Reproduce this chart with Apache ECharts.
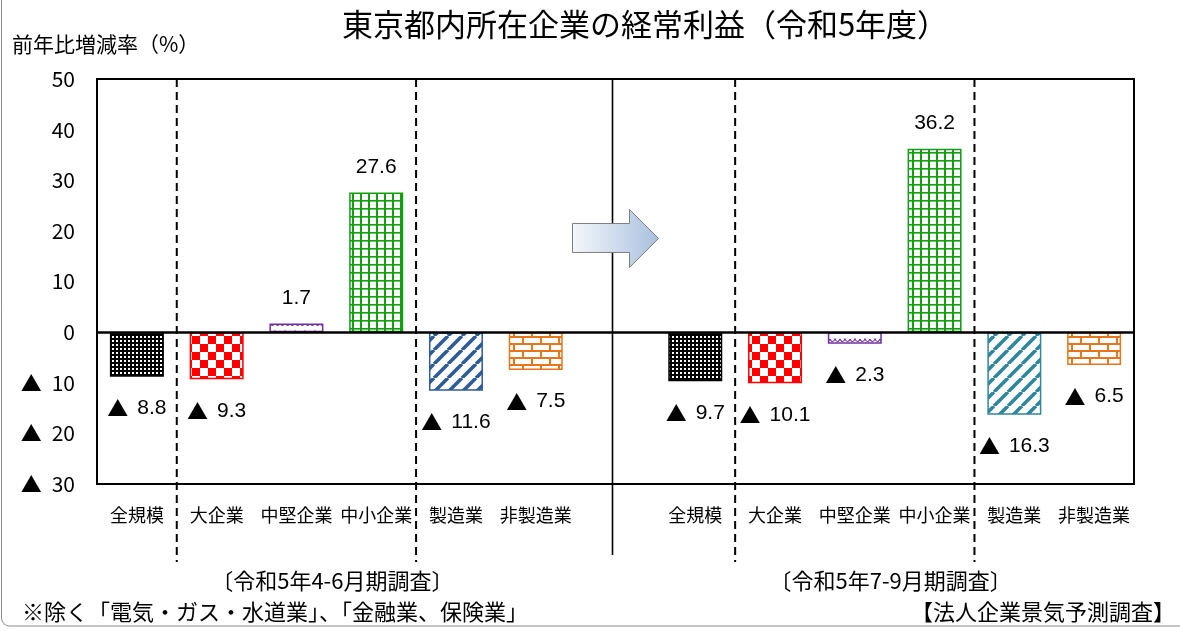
<!DOCTYPE html>
<html>
<head>
<meta charset="utf-8">
<script src="https://cdn.jsdelivr.net/npm/echarts@6/dist/echarts.min.js"></script>
<style>
  html, body { margin: 0; padding: 0; background: #fff; }
  #chart { width: 1180px; height: 631px; }
</style>
</head>
<body>
<div id="chart"></div>
<script>
// ---- data ----
const categories = ['全規模', '大企業', '中堅企業', '中小企業', '製造業', '非製造業', '',
                    '全規模', '大企業', '中堅企業', '中小企業', '製造業', '非製造業'];
const aprJunValues = [-8.8, -9.3, 1.7, 27.6, -11.6, -7.5];   // 令和5年4-6月期調査
const julSepValues = [-9.7, -10.1, -2.3, 36.2, -16.3, -6.5]; // 令和5年7-9月期調査
const yMin = -30, yMax = 50, yStep = 10;
const titleText = '東京都内所在企業の経常利益（令和5年度）';
const yAxisTitle = '前年比増減率（%）';
const periodLabels = ['〔令和5年4-6月期調査〕', '〔令和5年7-9月期調査〕'];
const footnote = '※除く「電気・ガス・水道業」、「金融業、保険業」';
const sourceNote = '【法人企業景気予測調査】';

// ---- fill patterns ----
function makePattern(w, h, draw) {
  const c = document.createElement('canvas');
  c.width = w; c.height = h;
  const g = c.getContext('2d');
  g.fillStyle = '#fff';
  g.fillRect(0, 0, w, h);
  draw(g, w, h);
  return c;
}
const patDots = makePattern(4, 4, g => {
  g.fillStyle = '#000';
  g.fillRect(0, 0, 4, 4);
  g.fillStyle = '#fff';
  g.fillRect(0, 0, 2, 2);
});
const patChecker = makePattern(16, 16, g => {
  g.fillStyle = '#ff0000';
  g.fillRect(0, 0, 8, 8);
  g.fillRect(8, 8, 8, 8);
});
const patWave = makePattern(10, 8, g => {
  g.strokeStyle = '#7030a0';
  g.lineWidth = 1.2;
  g.beginPath();
  g.moveTo(0, 3);
  g.quadraticCurveTo(2.5, 8, 5, 3);
  g.quadraticCurveTo(7.5, 8, 10, 3);
  g.stroke();
});
const patGrid = makePattern(8, 8, g => {
  g.fillStyle = '#12a012';
  g.fillRect(0, 0, 2, 8);
  g.fillRect(0, 0, 8, 1.6);
});
function patStripes(color) {
  return makePattern(14, 14, (g, w, h) => {
    g.strokeStyle = color;
    g.lineWidth = 3.6;
    g.beginPath();
    for (let k = -1; k <= 1; k++) {
      g.moveTo(k * w, h);
      g.lineTo(k * w + w, 0);
    }
    g.stroke();
  });
}
const patBricks = makePattern(18, 14, g => {
  g.fillStyle = '#e8751a';
  g.fillRect(0, 0, 18, 2);
  g.fillRect(0, 7, 18, 2);
  g.fillRect(0, 0, 2, 7);
  g.fillRect(9, 7, 2, 7);
});

function fill(img, border) {
  return { color: { image: img, repeat: 'repeat' }, borderColor: border, borderWidth: 1.5 };
}
const aprJunStyles = [
  fill(patDots, '#000'), fill(patChecker, '#ff0000'), fill(patWave, '#7030a0'),
  fill(patGrid, '#12a012'), fill(patStripes('#2f5b97'), '#2f5b97'), fill(patBricks, '#e8751a')
];
const julSepStyles = [
  fill(patDots, '#000'), fill(patChecker, '#ff0000'), fill(patWave, '#7030a0'),
  fill(patGrid, '#12a012'), fill(patStripes('#31869b'), '#31869b'), fill(patBricks, '#e8751a')
];

const fmt = v => (v < 0 ? '▲ ' + Math.abs(v) : String(v));
const fmtRich = v => (v < 0 ? '{t|▲}{n|' + Math.abs(v) + '}' : '{n|' + v + '}');

function toItems(values, styles) {
  return values.map((v, i) => ({
    value: v,
    itemStyle: styles[i],
    label: { position: v < 0 ? 'bottom' : 'top', distance: v < 0 ? 21 : 15 }
  }));
}
const barData = toItems(aprJunValues, aprJunStyles)
  .concat(['-'])
  .concat(toItems(julSepValues, julSepStyles));

const jpFont = '"Noto Sans CJK JP", "Noto Sans", sans-serif';
const numFont = '"Liberation Sans", "DejaVu Sans", sans-serif';

const chart = echarts.init(document.getElementById('chart'), null, { renderer: 'canvas' });

chart.setOption({
  backgroundColor: '#fff',
  animation: false,
  grid: {
    left: 97, right: 46, top: 79, bottom: 147,
    show: true, borderColor: '#000', borderWidth: 2, backgroundColor: 'transparent'
  },
  xAxis: {
    type: 'category',
    data: categories,
    axisLine: { show: false, onZero: false },
    axisTick: { show: false },
    splitLine: { show: false },
    axisLabel: {
      interval: 0, margin: 22, color: '#000', fontSize: 18, fontFamily: jpFont
    }
  },
  yAxis: {
    type: 'value',
    min: yMin, max: yMax, interval: yStep,
    axisLine: { show: false },
    axisTick: { show: false },
    splitLine: { show: false },
    axisLabel: {
      margin: 22, color: '#000', fontSize: 21, fontFamily: jpFont,
      formatter: v => (v < 0 ? '{t|▲}' + Math.abs(v) : String(v)),
      rich: {
        t: { fontSize: 21, fontFamily: jpFont, color: '#000', padding: [0, 10, 0, 0] }
      }
    }
  },
  series: [{
    type: 'bar',
    data: barData,
    barWidth: 54,
    label: {
      show: true,
      color: '#000',
      formatter: p => fmtRich(p.value),
      rich: {
        t: { fontSize: 21, fontFamily: jpFont, color: '#000', padding: [0, 9, 0, 0] },
        n: { fontSize: 21, fontFamily: numFont, color: '#000' }
      }
    },
    markLine: {
      silent: true,
      symbol: ['none', 'none'],
      label: { show: false },
      lineStyle: { color: '#000', width: 2.5, type: 'solid' },
      data: [{ yAxis: 0 }]
    }
  }]
});

// ---- dividers, arrow and notes, placed from the axis scale ----
const px = i => chart.convertToPixel({ seriesIndex: 0 }, [i, 0])[0];
const yTop = chart.convertToPixel({ seriesIndex: 0 }, [0, yMax])[1];
const between = (a, b) => (px(a) + px(b)) / 2;

const dashXs = [between(0, 1), between(3, 4), between(7, 8), between(10, 11)];
const graphics = [];

dashXs.forEach(x => {
  graphics.push({
    type: 'line', z: 50,
    shape: { x1: x, y1: yTop, x2: x, y2: 562 },
    style: { stroke: '#000', lineWidth: 2, lineDash: [8, 5] }
  });
});

const midX = px(6);
graphics.push({
  type: 'line', z: 50,
  shape: { x1: midX - 3, y1: yTop, x2: midX - 3, y2: 555 },
  style: { stroke: '#000', lineWidth: 1.6 }
});

const arrowY = chart.convertToPixel({ seriesIndex: 0 }, [6, 18.5])[1];
graphics.push({
  type: 'polygon', z: 60,
  x: midX, y: arrowY,
  shape: {
    points: [[-43, -15], [14, -15], [14, -29], [43, 0], [14, 29], [14, 14], [-43, 14]]
  },
  style: {
    fill: new echarts.graphic.LinearGradient(0, 0, 1, 0, [
      { offset: 0, color: '#f5f7fb' },
      { offset: 1, color: '#a9c0de' }
    ]),
    stroke: '#7f7f7f', lineWidth: 1
  }
});

graphics.push({
  type: 'text', z: 60,
  x: 645, y: 24,
  style: {
    text: titleText, fill: '#000', font: '31px ' + jpFont,
    textAlign: 'center', textVerticalAlign: 'middle'
  }
});
graphics.push({
  type: 'text', z: 60,
  x: 12, y: 44,
  style: {
    text: yAxisTitle, fill: '#000', font: '21px ' + jpFont,
    textAlign: 'left', textVerticalAlign: 'middle'
  }
});

const groupCenters = [(px(0) + px(5)) / 2, (px(7) + px(12)) / 2];
periodLabels.forEach((t, k) => {
  graphics.push({
    type: 'text', z: 60,
    x: groupCenters[k] - 4, y: 581,
    style: {
      text: t, fill: '#000', font: '22px ' + jpFont,
      textAlign: 'center', textVerticalAlign: 'middle'
    }
  });
});
graphics.push({
  type: 'text', z: 60,
  x: 22, y: 612,
  style: {
    text: footnote, fill: '#000', font: '22px ' + jpFont,
    textAlign: 'left', textVerticalAlign: 'middle'
  }
});
graphics.push({
  type: 'text', z: 60,
  x: 1175, y: 612,
  style: {
    text: sourceNote, fill: '#000', font: '22px ' + jpFont,
    textAlign: 'right', textVerticalAlign: 'middle'
  }
});

// outer frame
graphics.push({
  type: 'rect', z: 1,
  shape: { x: 1.5, y: -12, width: 1260, height: 638, r: 8 },
  style: { fill: 'none', stroke: '#8c8c8c', lineWidth: 1 }
});

chart.setOption({ graphic: graphics });
</script>
</body>
</html>
